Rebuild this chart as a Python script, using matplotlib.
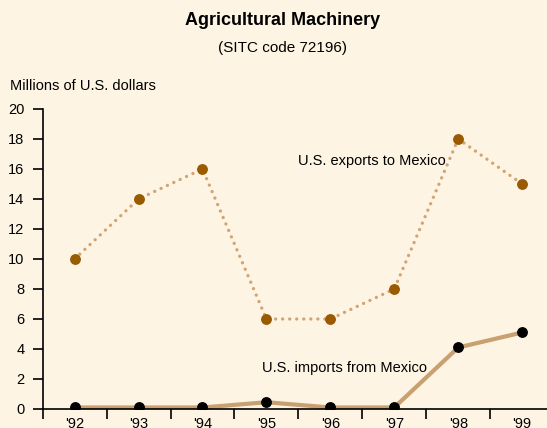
import matplotlib.pyplot as plt

years = ["'92", "'93", "'94", "'95", "'96", "'97", "'98", "'99"]
exports = [10, 14, 16, 6, 6, 8, 18, 15]
imports = [0.1, 0.1, 0.1, 0.45, 0.1, 0.1, 4.1, 5.1]
y_ticks = [0, 2, 4, 6, 8, 10, 12, 14, 16, 18, 20]

bg = '#fdf4e3'
plt.rcParams['font.family'] = ['Liberation Sans', 'DejaVu Sans']

fig = plt.figure(figsize=(5.47, 4.28), dpi=100, facecolor=bg)
ax = fig.add_axes([0.078, 0.0444, 0.935, 0.701], facecolor=bg)

x = range(len(years))
# dotted exports line, dots drawn as round caps
ax.plot(x, exports, linestyle=(0, (0.01, 2.1)), color='#d2a473', linewidth=2.4,
        dash_capstyle='round', zorder=2)
ax.plot(x, exports, linestyle='none', marker='o', markersize=6.8,
        color='#9a5a00', zorder=3)
ax.plot(x, imports, color='#c9a070', linewidth=3, zorder=2)
ax.plot(x, imports, linestyle='none', marker='o', markersize=6.8,
        color='black', zorder=3)

ax.set_xlim(-0.5, 7.5)
ax.set_ylim(0, 20)
ax.set_yticks(y_ticks)
ax.set_xticks([i - 0.5 for i in range(9)])
ax.set_xticklabels([])
ax.set_xticks(list(x), minor=True)
ax.set_xticklabels(years, minor=True)
ax.tick_params(axis='x', which='minor', length=0, pad=6, labelsize=10.5)
ax.tick_params(axis='x', which='major', length=7, width=1.2, direction='out')
ax.tick_params(axis='y', length=7, width=1.2, labelsize=10.5, pad=6)
for s in ['top', 'right']:
    ax.spines[s].set_visible(False)
ax.spines['left'].set_linewidth(1.2)
ax.spines['bottom'].set_linewidth(1.2)
ax.spines['bottom'].set_clip_on(False)

ax.text(3.49, 16.5, 'U.S. exports to Mexico', fontsize=10.5, va='center', ha='left')
ax.text(2.93, 2.7, 'U.S. imports from Mexico', fontsize=10.5, va='center', ha='left')

fig.text(0.517, 0.953, 'Agricultural Machinery', fontsize=13, fontweight='bold',
         ha='center', va='center')
fig.text(0.517, 0.888, '(SITC code 72196)', fontsize=11, ha='center', va='center')
fig.text(0.018, 0.799, 'Millions of U.S. dollars', fontsize=10.5, ha='left', va='center')

fig.savefig('out.png', dpi=100, facecolor=bg)
